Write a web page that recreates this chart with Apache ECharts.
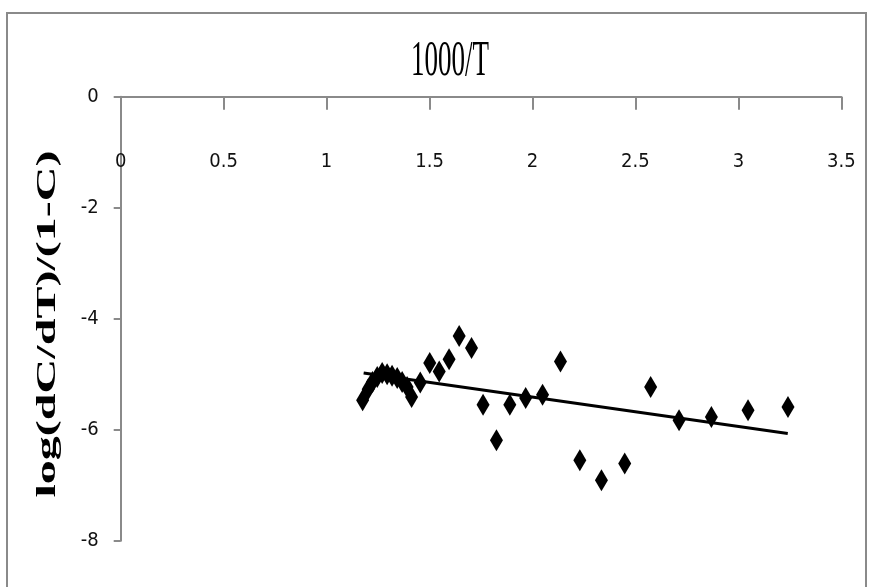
<!DOCTYPE html>
<html>
<head>
<meta charset="utf-8">
<title>log(dC/dT)/(1-C) vs 1000/T</title>
<script src="https://cdn.jsdelivr.net/npm/echarts@6/dist/echarts.min.js"></script>
<style>
  html, body { margin: 0; padding: 0; background: #fff; }
  #chart { width: 869px; height: 587px; }
</style>
</head>
<body>
<div id="chart"></div>
<script>
// Measured points: reciprocal temperature and log rate term
const invTemp = [1.175, 1.202, 1.223, 1.246, 1.270, 1.294, 1.318, 1.343, 1.367, 1.391,
                 1.413, 1.455, 1.501, 1.547, 1.595, 1.644, 1.704, 1.760, 1.825, 1.890,
                 1.967, 2.049, 2.136, 2.230, 2.335, 2.448, 2.574, 2.712, 2.869, 3.047, 3.241];
const logRate = [-5.47, -5.27, -5.14, -5.05, -4.98, -5.00, -5.03, -5.07, -5.14, -5.23,
                 -5.41, -5.15, -4.80, -4.95, -4.73, -4.31, -4.53, -5.55, -6.19, -5.55,
                 -5.43, -5.37, -4.77, -6.55, -6.91, -6.61, -5.23, -5.83, -5.77, -5.65, -5.59];

// Linear fit drawn between its two end points
const fitX = [1.18, 3.24];
const fitY = [-4.98, -6.07];

// Axis ticks
const xTicks = [0, 0.5, 1, 1.5, 2, 2.5, 3, 3.5];
const yTicks = [0, -2, -4, -6, -8];

const axisGray = '#8a8a8a';
const tickFont = '"DejaVu Sans Condensed", "DejaVu Sans", sans-serif';

const chart = echarts.init(document.getElementById('chart'), null, { renderer: 'canvas' });

chart.setOption({
  animation: false,
  backgroundColor: '#ffffff',
  grid: { left: 120.7, right: 27.7, top: 96.7, bottom: 46.3, containLabel: false },
  xAxis: {
    type: 'value',
    position: 'top',
    min: xTicks[0],
    max: xTicks[xTicks.length - 1],
    interval: 0.5,
    axisLine: { onZero: false, lineStyle: { color: axisGray, width: 2 } },
    axisTick: { show: true, inside: true, length: 13, lineStyle: { color: axisGray, width: 2 } },
    axisLabel: {
      inside: true, margin: 55, color: '#111', fontSize: 20, fontFamily: tickFont,
      formatter: v => String(v)
    },
    splitLine: { show: false }
  },
  yAxis: {
    type: 'value',
    min: yTicks[yTicks.length - 1],
    max: yTicks[0],
    interval: 2,
    axisLine: { show: true, onZero: false, lineStyle: { color: axisGray, width: 2 } },
    axisTick: { show: true, inside: false, length: 7, lineStyle: { color: axisGray, width: 2 } },
    axisLabel: { margin: 22, color: '#111', fontSize: 20, fontFamily: tickFont },
    splitLine: { show: false }
  },
  graphic: [
    {
      type: 'rect', silent: true, z: -1,
      shape: { x: 7, y: 13, width: 859, height: 600 },
      style: { fill: 'none', stroke: axisGray, lineWidth: 2 }
    },
    {
      type: 'text', silent: true,
      x: 450, y: 61.5, scaleY: 1.85,
      style: {
        text: '1000/T', fill: '#000',
        font: '27px "Liberation Serif", "DejaVu Serif", serif',
        align: 'center', verticalAlign: 'middle'
      }
    },
    {
      type: 'text', silent: true,
      x: 48, y: 324, rotation: Math.PI / 2, scaleX: 1.78,
      style: {
        text: 'log(dC/dT)/(1-C)', fill: '#000',
        font: 'bold 27px "Liberation Serif", "DejaVu Serif", serif',
        align: 'center', verticalAlign: 'middle'
      }
    }
  ],
  series: [
    {
      type: 'line',
      data: fitX.map((x, i) => [x, fitY[i]]),
      showSymbol: false,
      lineStyle: { color: '#000', width: 3 },
      z: 2
    },
    {
      type: 'scatter',
      data: invTemp.map((x, i) => [x, logRate[i]]),
      symbol: 'diamond',
      symbolSize: [13, 22],
      itemStyle: { color: '#000', opacity: 1 },
      emphasis: { disabled: true },
      z: 3
    }
  ]
});
</script>
</body>
</html>
